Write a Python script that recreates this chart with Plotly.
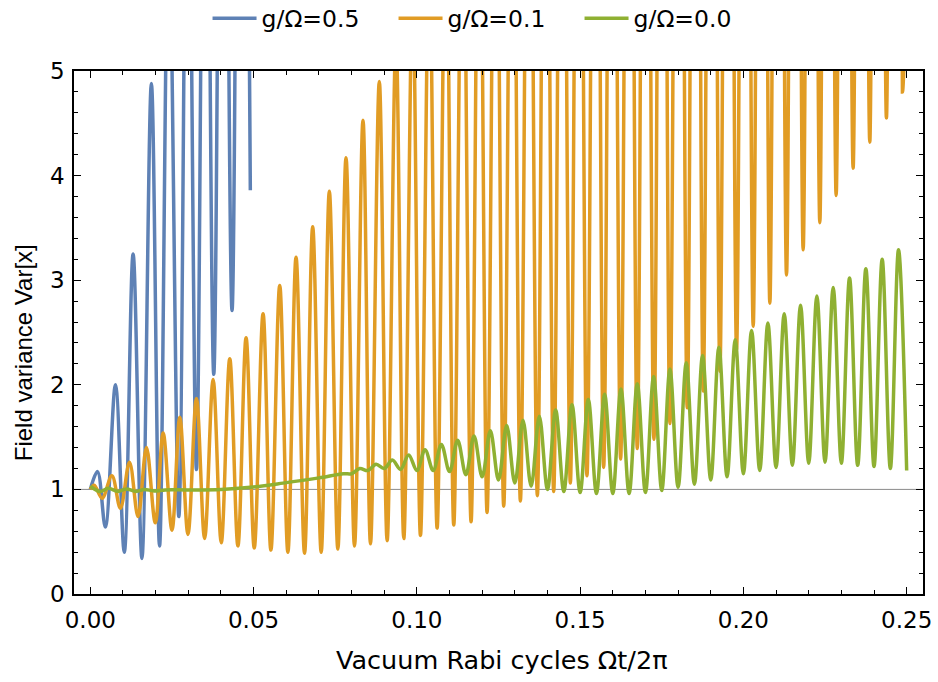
import plotly.graph_objects as go

# ---------------- data (extrema) ----------------
# g/Omega = 0.5
blue_t = [0.0, 0.0022, 0.0046, 0.0077, 0.0104, 0.0131, 0.0158, 0.0187, 0.0212,
          0.0240, 0.0271, 0.0298, 0.0325, 0.0352, 0.0378, 0.0406, 0.0434, 0.0462, 0.0490]
blue_v = [1.00, 1.17, 0.64, 2.00, 0.40, 3.25, 0.34, 4.88, 0.46,
          6.5, 0.74, 8.0, 1.19, 9.5, 2.10, 11.0, 2.71, 12.5, 3.86]

# g/Omega = 0.1
orange_t = [0.0, 0.0012, 0.0036, 0.0066, 0.0092, 0.0120, 0.0146, 0.0172, 0.0199, 0.0223,
            0.0250, 0.0274, 0.0299, 0.0325, 0.0350, 0.0376, 0.0401, 0.0427, 0.0452, 0.0477,
            0.0502, 0.0529, 0.0553, 0.0580, 0.0605, 0.0630, 0.0656, 0.0681, 0.0707, 0.0732,
            0.0758, 0.0783, 0.0809, 0.0835, 0.0858, 0.0885, 0.0909, 0.0936, 0.0960, 0.0987,
            0.1011, 0.1038, 0.1062, 0.1089, 0.1113, 0.1140, 0.1166, 0.1191, 0.1215, 0.1241,
            0.1266, 0.1292, 0.1317, 0.1343, 0.1369, 0.1394, 0.1419, 0.1445, 0.1470, 0.1496,
            0.1521, 0.1547, 0.1572, 0.1598, 0.1624, 0.1650, 0.1675, 0.1700, 0.1726, 0.1751,
            0.1775, 0.1802, 0.1828, 0.1853, 0.1877, 0.1903, 0.1928, 0.1954, 0.1979, 0.2005,
            0.2030, 0.2056, 0.2081, 0.2107, 0.2132, 0.2158, 0.2183, 0.2209, 0.2234, 0.2259,
            0.2284, 0.2310, 0.2336, 0.2362, 0.2387, 0.2413, 0.2438, 0.2463, 0.2487, 0.2500]
orange_v = [1.00, 1.04, 0.915, 1.13, 0.82, 1.26, 0.74, 1.40, 0.68, 1.54,
            0.61, 1.69, 0.57, 1.87, 0.53, 2.05, 0.49, 2.25, 0.46, 2.45,
            0.44, 2.68, 0.42, 2.95, 0.40, 3.22, 0.39, 3.51, 0.40, 3.85,
            0.43, 4.17, 0.46, 4.53, 0.48, 4.90, 0.51, 5.3, 0.53, 5.75,
            0.56, 6.2, 0.63, 6.7, 0.66, 7.2, 0.69, 7.7, 0.78, 8.2,
            0.84, 8.7, 0.89, 9.2, 0.94, 9.7, 0.98, 10.2, 1.06, 10.7,
            1.13, 11.2, 1.21, 11.7, 1.29, 12.2, 1.39, 12.7, 1.48, 13.2,
            1.63, 13.7, 1.78, 14.2, 1.94, 14.7, 2.13, 15.2, 2.33, 15.7,
            2.56, 16.2, 2.78, 16.7, 3.05, 17.2, 3.29, 17.7, 3.55, 18.2,
            3.81, 18.7, 4.07, 19.2, 4.32, 19.7, 4.55, 20.2, 4.80, 6.0]

# g/Omega = 0.0
green_t = [0.0, 0.0030, 0.0055, 0.0085, 0.0110, 0.0140, 0.0165, 0.0195, 0.0230, 0.0300,
           0.0400, 0.0490, 0.0590, 0.0700, 0.0775, 0.0800, 0.0825, 0.0850, 0.0875, 0.0900,
           0.0925, 0.0950, 0.0975, 0.1000, 0.1025, 0.1050, 0.1075, 0.1100, 0.1125, 0.1150,
           0.1175, 0.1200, 0.1225, 0.1250, 0.1275, 0.1300, 0.1325, 0.1350, 0.1375, 0.1400,
           0.1425, 0.1450, 0.1475, 0.1500, 0.1525, 0.1550, 0.1575, 0.1600, 0.1625, 0.1650,
           0.1675, 0.1700, 0.1725, 0.1750, 0.1775, 0.1800, 0.1825, 0.1850, 0.1875, 0.1900,
           0.1925, 0.1950, 0.1975, 0.2000, 0.2025, 0.2050, 0.2075, 0.2100, 0.2125, 0.2150,
           0.2175, 0.2200, 0.2225, 0.2250, 0.2275, 0.2300, 0.2325, 0.2350, 0.2375, 0.2400,
           0.2425, 0.2450, 0.2475, 0.2500]
green_v = [1.03, 0.98, 1.01, 0.98, 1.005, 0.98, 1.00, 0.985, 0.995, 0.995,
           1.00, 1.02, 1.06, 1.11, 1.15, 1.15, 1.20, 1.18, 1.24, 1.20,
           1.28, 1.19, 1.33, 1.18, 1.38, 1.18, 1.43, 1.17, 1.47, 1.14,
           1.51, 1.12, 1.56, 1.09, 1.61, 1.06, 1.66, 1.03, 1.70, 1.00,
           1.76, 0.98, 1.81, 0.97, 1.86, 0.96, 1.91, 0.96, 1.96, 0.96,
           2.01, 0.97, 2.08, 0.99, 2.15, 1.02, 2.21, 1.05, 2.28, 1.09,
           2.36, 1.12, 2.43, 1.15, 2.52, 1.18, 2.59, 1.21, 2.68, 1.23,
           2.76, 1.25, 2.85, 1.26, 2.93, 1.25, 3.02, 1.23, 3.11, 1.22,
           3.20, 1.20, 3.29, 1.18]

series_names = ["g/Ω=0.5", "g/Ω=0.1", "g/Ω=0.0"]
series_colors = ["#5E81B5", "#E19C24", "#8FB032"]

x_ticks = [0.0, 0.05, 0.10, 0.15, 0.20, 0.25]
x_ticktext = ["0.00", "0.05", "0.10", "0.15", "0.20", "0.25"]
y_ticks = [0, 1, 2, 3, 4, 5]

x_title = "Vacuum Rabi cycles Ωt/2π"
y_title = "Field variance Var[x]"

WIDE = "DejaVu Sans, Verdana, sans-serif"
ARIAL = "Liberation Sans, Arial, sans-serif"

fig = go.Figure()
for name, col, tt, vv in zip(series_names, series_colors,
                             [blue_t, orange_t, green_t],
                             [blue_v, orange_v, green_v]):
    fig.add_trace(go.Scatter(x=tt, y=vv, mode="lines", name=name,
                             line=dict(color=col, width=3.5, shape="spline", smoothing=1.0)))

fig.add_shape(type="line", xref="paper", yref="y", x0=0, x1=1, y0=1, y1=1,
              line=dict(color="#8a8a8a", width=1), layer="below")

axis_common = dict(showline=True, linecolor="black", linewidth=1.5, mirror="ticks",
                   ticks="inside", tickcolor="black", tickwidth=1.2, ticklen=7,
                   showgrid=False, zeroline=False, automargin=False,
                   tickfont=dict(family=WIDE, size=23, color="black"))

fig.update_xaxes(range=[-0.005, 0.255], tickvals=x_ticks, ticktext=x_ticktext,
                 minor=dict(ticks="inside", ticklen=4, dtick=0.01, tick0=0, tickcolor="black", tickwidth=1),
                 ticklabelstandoff=5, **axis_common)
fig.update_yaxes(range=[0, 5], tickvals=y_ticks,
                 minor=dict(ticks="inside", ticklen=4, dtick=0.2, tick0=0, tickcolor="black", tickwidth=1),
                 ticklabelstandoff=3, **axis_common)

fig.add_annotation(text=x_title, xref="paper", yref="paper", x=0.504, y=-0.126,
                   xanchor="center", yanchor="middle", showarrow=False,
                   font=dict(family=WIDE, size=25.5, color="black"))
fig.add_annotation(text=y_title, xref="paper", yref="paper", x=-0.060, y=0.4605,
                   xanchor="center", yanchor="middle", showarrow=False, textangle=-90,
                   font=dict(family=ARIAL, size=24, color="black"))

fig.update_layout(
    width=938, height=682,
    margin=dict(l=74, r=15, t=71, b=88, autoexpand=False),
    plot_bgcolor="white", paper_bgcolor="white",
    font=dict(family=WIDE, size=23, color="black"),
    legend=dict(orientation="h", x=0.5187, xanchor="center", xref="container",
                y=0.973, yanchor="middle", yref="container",
                itemwidth=44, entrywidth=127, entrywidthmode="pixels",
                font=dict(family=WIDE, size=23.5, color="black"), bgcolor="rgba(0,0,0,0)"),
)

fig.write_html("out.html")
